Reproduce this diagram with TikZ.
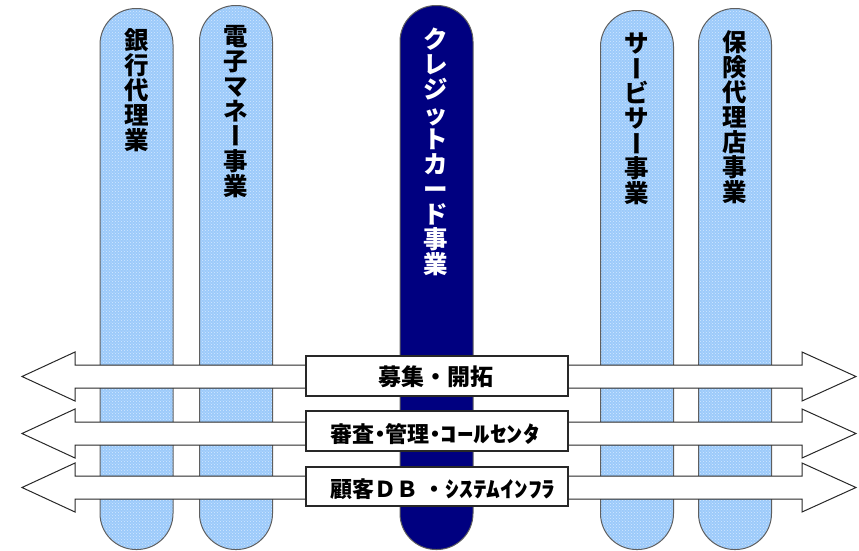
\documentclass[tikz,border=0pt]{standalone}
\usepackage{fontspec}
\usepackage{graphicx}
\usetikzlibrary{patterns}
\newfontfamily\jp{Noto Sans CJK JP}
\newcommand\vbar{\raisebox{0.38em}{\makebox[1em][c]{\rotatebox[origin=c]{-90}{\makebox[1em][c]{\raisebox{-0.38em}[0pt][0pt]{ー}}}}}}
\definecolor{pillarblue}{RGB}{156,202,250}
\definecolor{dotwhite}{RGB}{210,232,255}
\definecolor{navyfill}{RGB}{0,0,128}
\definecolor{edgegray}{RGB}{95,95,95}
\definecolor{linedark}{RGB}{40,40,40}
\begin{document}
\begin{tikzpicture}[x=1pt,y=-1pt,
  pillar/.style={draw=edgegray, line width=1pt, rounded corners=36pt,
    minimum width=73pt, inner sep=0pt, anchor=north,
    preaction={fill=pillarblue}, pattern=crosshatch dots, pattern color=dotwhite},
  navypillar/.style={draw=edgegray, line width=1pt, rounded corners=36pt,
    minimum width=73pt, inner sep=0pt, anchor=north, fill=navyfill},
  ptext/.style={font=\jp\bfseries\fontsize{24.5}{25}\selectfont, align=center,
    inner sep=0pt, anchor=north},
  arr/.style={draw=linedark, line width=1pt, fill=white, line join=miter},
  bandbox/.style={draw=linedark, line width=1.3pt, fill=white,
    minimum width=262pt, inner sep=0pt},
  btext/.style={font=\jp\bfseries\fontsize{22}{22}\selectfont, inner sep=0pt}
]
\useasboundingbox (0,0) rectangle (859,550);

% pillars
\node[pillar, minimum height=541pt] (p1) at (136.5,8) {};
\node[pillar, minimum height=544pt] (p2) at (236,5) {};
\node[navypillar, minimum height=544pt] (p3) at (436.5,5) {};
\node[pillar, minimum height=539pt] (p4) at (637,10) {};
\node[pillar, minimum height=541pt] (p5) at (735,8) {};

% pillar labels
\node[ptext] (t1) at (136.5,28) {銀\\行\\代\\理\\業};
\node[ptext] (t2) at (236,25) {電\\子\\マ\\ネ\\\vbar\\事\\業};
\node[ptext, text=white] (t3) at (436,28) {ク\\レ\\ジ\\ッ\\ト\\カ\\ー\\ド\\事\\業};
\node[ptext] (t4) at (637,33) {サ\\\vbar\\ビ\\サ\\\vbar\\事\\業};
\node[ptext] (t5) at (735,30) {保\\険\\代\\理\\店\\事\\業};

% double arrows
\foreach \yt/\yb in {365/388, 422/445, 476/499}{
  \draw[arr] (22,{(\yt+\yb)/2}) -- (75,{\yt-13}) -- (75,\yt) -- (802,\yt)
    -- (802,{\yt-13}) -- (856,{(\yt+\yb)/2}) -- (802,{\yb+13}) -- (802,\yb)
    -- (75,\yb) -- (75,{\yb+13}) -- cycle;
}

% band boxes
\node[bandbox, minimum height=40pt] (b1) at (437,376) {};
\node[bandbox, minimum height=40pt] (b2) at (437,431) {};
\node[bandbox, minimum height=39pt] (b3) at (437,486.5) {};

\node[btext, font=\jp\bfseries\fontsize{23}{23}\selectfont] (l1) at (436,377) {募集・開拓};
\node[btext] (l2) at (435,434) {審査\makebox[0.5em]{・}管理\makebox[0.5em]{・}\scalebox{1.5}[1]{ｺｰﾙｾﾝﾀ}};
\node[btext] (l3) at (443,489) {顧客ＤＢ ・\scalebox{1.25}[1]{ｼｽﾃﾑｲﾝﾌﾗ}};
\end{tikzpicture}
\end{document}
